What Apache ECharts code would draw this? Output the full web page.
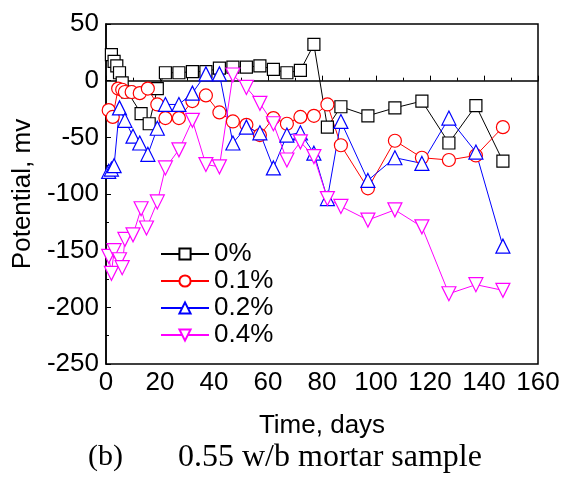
<!DOCTYPE html>
<html>
<head>
<meta charset="utf-8">
<script src="https://cdn.jsdelivr.net/npm/echarts@6/dist/echarts.min.js"></script>
<style>
  html, body { margin: 0; padding: 0; background: #fff; }
  #chart { width: 564px; height: 477px; }
</style>
</head>
<body>
<div id="chart"></div>
<script>
// 0% series
var days0 = [2, 3, 4, 5, 6, 8, 13, 16, 19, 22, 27, 32, 37, 42, 47, 52, 57, 62, 67, 72, 77, 82, 87, 97, 107, 117, 127, 137, 147];
var pot0 = [23, 17, 13, 7, -2, -10, -29, -38, -7, 7, 7, 8, 8, 11, 12, 12, 13, 10, 7, 9, 32, -41, -23, -31, -24, -18, -55, -22, -71];
// 0.1% series
var days1 = [1, 2.5, 4.5, 6, 7, 9.5, 12.5, 15.5, 19, 22, 27, 32, 37, 42, 47, 52, 57, 62, 67, 72, 77, 82, 87, 97, 107, 117, 127, 137, 147];
var pot1 = [-26, -32, -7, -8, -10, -10, -11, -7, -21, -33, -33, -18, -13, -28, -36, -39, -48, -33, -38, -32, -31, -21, -57, -95, -53, -68, -70, -66, -41];
// 0.2% series
var days2 = [1, 2, 3, 5, 7, 10, 12.5, 15.5, 19, 22, 27, 32, 37, 42, 47, 52, 57, 62, 67, 72, 77, 82, 87, 97, 107, 117, 127, 137, 147];
var pot2 = [-80, -78, -75, -24, -35, -49, -55, -65, -42, -21, -21, -11, 6, 6, -55, -41, -46, -77, -48, -46, -64, -104, -36, -88, -68, -73, -33, -63, -146];
// 0.4% series
var days3 = [1, 2, 3, 5, 6, 7, 10, 13, 15, 19, 22, 27, 32, 37, 42, 47, 52, 57, 62, 67, 72, 77, 82, 87, 97, 107, 117, 127, 137, 147];
var pot3 = [-155, -170, -150, -158, -165, -140, -136, -113, -130, -107, -77, -61, -35, -74, -76, 5, -6, -20, -38, -70, -54, -67, -104, -111, -123, -114, -129, -188, -180, -185];

var seriesNames = ['0%', '0.1%', '0.2%', '0.4%'];
var seriesColors = ['#000000', '#ff0000', '#0000ff', '#ff00ff'];
var caption = '(b)';
var captionText = '0.55 w/b mortar sample';

function pairs(days, vals) {
    var out = [];
    for (var i = 0; i < days.length; i++) {
        out.push([days[i], vals[i]]);
    }
    return out;
}

var allDays = [days0, days1, days2, days3];
var allPots = [pot0, pot1, pot2, pot3];
var symbols = ['rect', 'circle', 'triangle', 'triangle'];
var symbolSizes = [12, 13, 14, 14];
var rotates = [0, 0, 0, 180];

var seriesArr = [];
for (var k = 0; k < 4; k++) {
    seriesArr.push({
        name: seriesNames[k],
        type: 'line',
        data: pairs(allDays[k], allPots[k]),
        symbol: symbols[k],
        symbolSize: symbolSizes[k],
        symbolRotate: rotates[k],
        showAllSymbol: true,
        lineStyle: { color: seriesColors[k], width: 1 },
        itemStyle: { color: '#ffffff', borderColor: seriesColors[k], borderWidth: 1.2 }
    });
}

var font = 'Liberation Sans, Arial, sans-serif';
var myChart = echarts.init(document.getElementById('chart'));
myChart.setOption({
    animation: false,
    grid: {
        left: 106, top: 24, right: 26, bottom: 113,
        show: true, borderColor: '#000', borderWidth: 1.5
    },
    legend: {
        orient: 'vertical',
        left: 160,
        top: 241,
        padding: 0,
        itemWidth: 48,
        itemHeight: 14,
        itemGap: 1,
        data: seriesNames,
        textStyle: { fontSize: 26, fontFamily: font, color: '#000', lineHeight: 22 }
    },
    xAxis: {
        type: 'value',
        min: 0, max: 160, interval: 20,
        name: 'Time, days',
        nameLocation: 'middle',
        nameGap: 49,
        nameTextStyle: { fontSize: 26, fontFamily: font, color: '#000' },
        axisLine: { lineStyle: { color: '#000', width: 1.5 } },
        axisTick: { inside: true, length: 5, lineStyle: { color: '#000' } },
        minorTick: { show: true, splitNumber: 2, length: 3, lineStyle: { color: '#000' } },
        splitLine: { show: false },
        axisLabel: { fontSize: 26, fontFamily: font, color: '#000', margin: 6 }
    },
    yAxis: {
        type: 'value',
        min: -250, max: 50, interval: 50,
        name: 'Potential, mv',
        nameLocation: 'middle',
        nameGap: 68,
        nameRotate: 90,
        nameTextStyle: { fontSize: 26, fontFamily: font, color: '#000' },
        axisLine: { lineStyle: { color: '#000', width: 1.5 } },
        axisTick: { inside: true, length: 5, lineStyle: { color: '#000' } },
        minorTick: { show: true, splitNumber: 2, length: 3, lineStyle: { color: '#000' } },
        splitLine: { show: false },
        axisLabel: { fontSize: 26, fontFamily: font, color: '#000', margin: 7 }
    },
    graphic: [
        {
            type: 'text', left: 88, top: 442,
            style: { text: caption, font: '30px "Liberation Serif", "Times New Roman", serif', fill: '#000' }
        },
        {
            type: 'text', left: 178, top: 442,
            style: { text: captionText, font: '32px "Liberation Serif", "Times New Roman", serif', fill: '#000' }
        }
    ],
    series: seriesArr
});
</script>
</body>
</html>
